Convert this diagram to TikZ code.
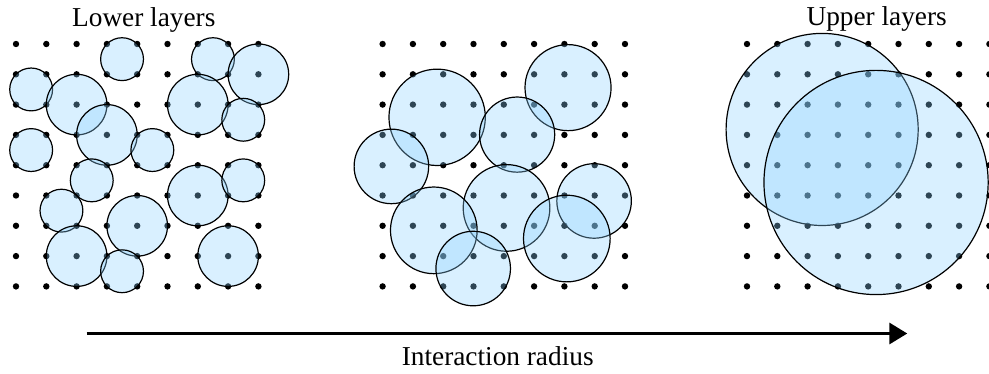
\documentclass[tikz,border=0pt]{standalone}
\usepackage{fontspec}
\setmainfont{Liberation Serif}
\usepackage{xcolor}
\usetikzlibrary{arrows.meta}

\definecolor{zoneblue}{RGB}{140,210,255}

\begin{document}
\begin{tikzpicture}[
        x=1pt, y=-1pt,
        gridpt/.style={fill=black},
        zone/.style={draw=black, line width=1.2pt, fill=zoneblue, fill opacity=0.33},
        title/.style={anchor=base, inner sep=0pt, font=\fontsize{27.3}{32}\selectfont},
        arrow/.style={-{Triangle[length=18pt, width=21pt]}, line width=3.3pt, draw=black}
        ]
        \useasboundingbox (0,0) rectangle (989,373);

        % Lower layers (left grid)
        \begin{scope}[xshift=16pt, yshift=-44pt, x=30.3pt, y=-30.3pt]
            \foreach \i in {0,...,8}
                \foreach \j in {0,...,8}
                    \fill [gridpt] (\i,\j) circle (3.2pt);
            \foreach \cx/\cy/\r in {3.5/0.5/0.707, 0.5/1.5/0.707, 2/2/1, 3/3/1, 0.5/3.5/0.707,
                    4.5/3.5/0.707, 6.5/0.5/0.707, 8/1/1, 6/2/1, 7.5/2.5/0.707, 2.5/4.5/0.707,
                    6/5/1, 7.5/4.5/0.707, 1.5/5.5/0.707, 4/6/1, 2/7/1, 3.5/7.5/0.707, 7/7/1}
                \draw [zone] (\cx,\cy) circle (\r);
        \end{scope}

        % Middle grid
        \begin{scope}[xshift=382.6pt, yshift=-44pt, x=30.3pt, y=-30.3pt]
            \foreach \i in {0,...,8}
                \foreach \j in {0,...,8}
                    \fill [gridpt] (\i,\j) circle (3.2pt);
            \foreach \cx/\cy/\r in {1.8/2.42/1.59, 6.12/1.44/1.42, 4.44/2.99/1.24, 0.29/4.04/1.23,
                    4.09/5.41/1.43, 6.98/5.18/1.23, 1.69/6.15/1.43, 6.08/6.42/1.43, 2.99/7.41/1.23}
                \draw [zone] (\cx,\cy) circle (\r);
        \end{scope}

        % Upper layers (right grid)
        \begin{scope}[xshift=747pt, yshift=-44pt, x=30.3pt, y=-30.3pt]
            \foreach \i in {0,...,8}
                \foreach \j in {0,...,8}
                    \fill [gridpt] (\i,\j) circle (3.2pt);
            \foreach \cx/\cy/\r in {2.48/2.82/3.17, 4.26/4.57/3.7}
                \draw [zone] (\cx,\cy) circle (\r);
        \end{scope}

        % Titles
        \node (lowertitle) [title] at (143.8,26) {Lower layers};
        \node (uppertitle) [title] at (876.7,25.5) {Upper layers};

        % Interaction radius axis
        \coordinate (axisstart) at (86.7,333.5);
        \coordinate (axisend) at (907.3,333.5);
        \draw [arrow] (axisstart) -- (axisend);
        \node (radiuslabel) [title] at (497.7,365.7) {Interaction radius};

    \end{tikzpicture}
\end{document}
